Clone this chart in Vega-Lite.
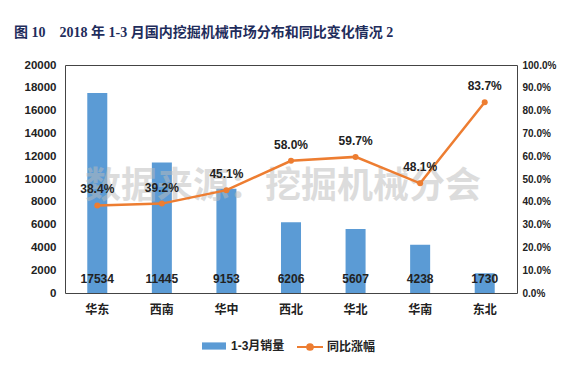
{
  "$schema": "https://vega.github.io/schema/vega-lite/v6.json",
  "width": 452,
  "height": 228,
  "autosize": {"type": "none"},
  "padding": {"left": 65, "top": 65, "right": 62, "bottom": 76},
  "background": "white",
  "title": {
    "text": "图 10\u00a0\u00a0\u00a0 2018 年 1-3 月国内挖掘机械市场分布和同比变化情况 2",
    "anchor": "start",
    "frame": "group",
    "dx": -51,
    "offset": 19,
    "font": "Liberation Serif, Noto Sans CJK SC",
    "fontSize": 14,
    "fontWeight": "bold",
    "color": "#1F2D5C"
  },
  "config": {
    "view": {"stroke": "#444", "strokeWidth": 1},
    "font": "Liberation Sans, Noto Sans CJK SC",
    "axis": {"grid": false, "ticks": false, "domain": false, "labelFontWeight": "bold", "labelColor": "#222", "title": null, "labelOverlap": false, "labelFlush": false}
  },
  "data": {
    "values": [
      {"region": "华东", "sales": 17534, "growth": 0.384},
      {"region": "西南", "sales": 11445, "growth": 0.392},
      {"region": "华中", "sales": 9153, "growth": 0.451},
      {"region": "西北", "sales": 6206, "growth": 0.580},
      {"region": "华北", "sales": 5607, "growth": 0.597},
      {"region": "华南", "sales": 4238, "growth": 0.481},
      {"region": "东北", "sales": 1730, "growth": 0.837}
    ]
  },
  "encoding": {
    "x": {
      "field": "region",
      "type": "nominal",
      "sort": null,
      "scale": {"paddingInner": 0.69, "paddingOuter": 0.345},
      "axis": {"labelAngle": 0, "labelFontSize": 12, "labelPadding": 11}
    }
  },
  "layer": [
    {
      "layer": [
        {
          "mark": {"type": "bar", "color": "#5B9BD5"},
          "encoding": {
            "y": {
              "field": "sales",
              "type": "quantitative",
              "scale": {"domain": [0, 20000]},
              "axis": {"values": [0,2000,4000,6000,8000,10000,12000,14000,16000,18000,20000], "format": "d", "labelFontSize": 11.5, "labelPadding": 9, "labelOverlap": false, "labelFlush": false}
            },
            "fill": {
              "datum": "1-3月销量",
              "type": "nominal",
              "scale": {"range": ["#5B9BD5"]},
              "legend": {
                "orient": "none",
                "legendX": 136,
                "legendY": 268,
                "title": null,
                "symbolType": "M-1,-0.3H1V0.3H-1Z",
                "symbolSize": 576,
                "labelFontSize": 12,
                "labelFontWeight": "bold",
                "labelColor": "#222",
                "labelOffset": 4
              }
            }
          }
        },
        {
          "data": {"values": [{"t": "数据来源：挖掘机械分会", "v": 9300}]},
          "mark": {"type": "text", "fontSize": 36, "fontWeight": "bold", "color": "#bbbbbb", "opacity": 0.5, "baseline": "middle", "dx": -8},
          "encoding": {
            "x": {"datum": "西北"},
            "y": {
              "field": "v",
              "type": "quantitative",
              "scale": {"domain": [0, 20000]},
              "axis": {"values": [0,2000,4000,6000,8000,10000,12000,14000,16000,18000,20000], "format": "d", "labelFontSize": 11.5, "labelPadding": 9, "labelOverlap": false, "labelFlush": false}
            },
            "text": {"field": "t"}
          }
        },
        {
          "mark": {"type": "text", "fontSize": 12, "fontWeight": "bold", "color": "#222", "baseline": "middle", "dy": -14},
          "encoding": {
            "y": {
              "datum": 0,
              "type": "quantitative",
              "scale": {"domain": [0, 20000]},
              "axis": {"values": [0,2000,4000,6000,8000,10000,12000,14000,16000,18000,20000], "format": "d", "labelFontSize": 11.5, "labelPadding": 9, "labelOverlap": false, "labelFlush": false}
            },
            "text": {"field": "sales", "type": "quantitative", "format": "d"}
          }
        }
      ]
    },
    {
      "layer": [
        {
          "mark": {"type": "line", "color": "#ED7D31", "strokeWidth": 2.5},
          "encoding": {
            "y": {
              "field": "growth",
              "type": "quantitative",
              "scale": {"domain": [0, 1]},
              "axis": {"orient": "right", "values": [0,0.1,0.2,0.3,0.4,0.5,0.6,0.7,0.8,0.9,1.0], "format": ".1%", "labelFontSize": 10, "labelPadding": 5, "labelOverlap": false, "labelFlush": false}
            },
            "stroke": {
              "datum": "同比涨幅",
              "type": "nominal",
              "scale": {"range": ["#ED7D31"]},
              "legend": {
                "orient": "none",
                "legendX": 231,
                "legendY": 268,
                "title": null,
                "symbolType": "M-1,0H1M0.22,0A0.22,0.22 0 1,1 -0.22,0A0.22,0.22 0 1,1 0.22,0Z",
                "symbolSize": 676,
                "symbolStrokeWidth": 2,
                "symbolFillColor": "#ED7D31",
                "labelFontSize": 12,
                "labelFontWeight": "bold",
                "labelColor": "#222",
                "labelOffset": 3
              }
            }
          }
        },
        {
          "mark": {"type": "point", "filled": true, "color": "#ED7D31", "size": 36, "opacity": 1},
          "encoding": {
            "y": {
              "field": "growth",
              "type": "quantitative",
              "scale": {"domain": [0, 1]},
              "axis": {"orient": "right", "values": [0,0.1,0.2,0.3,0.4,0.5,0.6,0.7,0.8,0.9,1.0], "format": ".1%", "labelFontSize": 10, "labelPadding": 5, "labelOverlap": false, "labelFlush": false}
            }
          }
        },
        {
          "mark": {"type": "text", "fontSize": 12, "fontWeight": "bold", "color": "#222", "baseline": "middle", "dy": -16},
          "encoding": {
            "y": {
              "field": "growth",
              "type": "quantitative",
              "scale": {"domain": [0, 1]},
              "axis": {"orient": "right", "values": [0,0.1,0.2,0.3,0.4,0.5,0.6,0.7,0.8,0.9,1.0], "format": ".1%", "labelFontSize": 10, "labelPadding": 5, "labelOverlap": false, "labelFlush": false}
            },
            "text": {"field": "growth", "type": "quantitative", "format": ".1%"}
          }
        }
      ]
    }
  ],
  "resolve": {"scale": {"y": "independent", "fill": "independent", "stroke": "independent"}}
}
